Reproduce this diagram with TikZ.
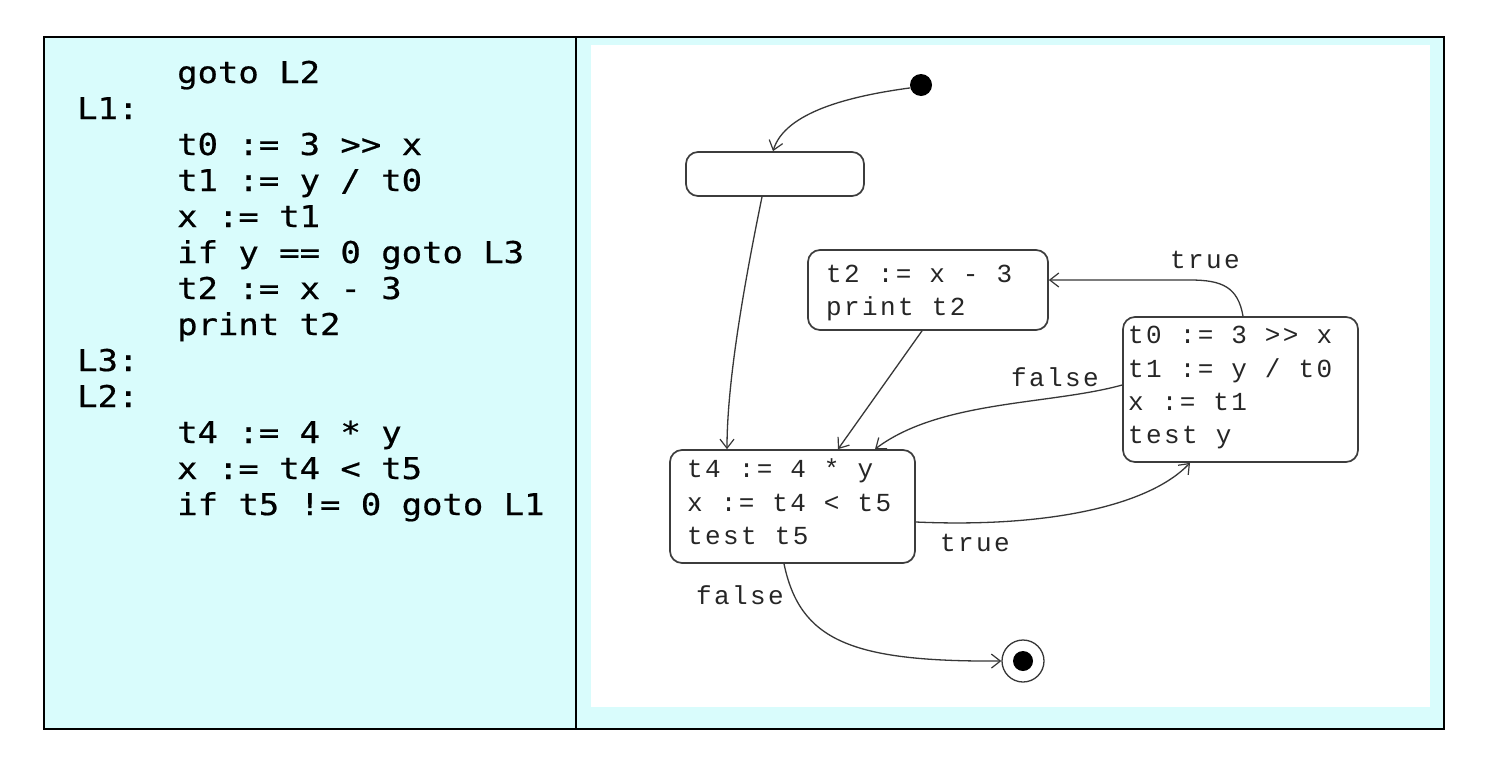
\documentclass[tikz,border=0pt]{standalone}
\usepackage{fontspec}
\usetikzlibrary{arrows.meta,calc}
\newfontfamily\codefont{DejaVu Sans Mono}[FakeStretch=1.13,FakeBold=0.6]
\newfontfamily\boxfont{Liberation Mono}[LetterSpace=9.2]
\definecolor{panelcyan}{RGB}{217,252,252}
\definecolor{edgegray}{RGB}{55,55,55}
\definecolor{boxgray}{RGB}{60,60,60}
\begin{document}
\begin{tikzpicture}[x=1pt,y=-1pt,
  stbox/.style n args={2}{draw=boxgray, line width=1.7pt, rounded corners=12pt,
    minimum width=#1, minimum height=#2, inner sep=0pt},
  conn/.style={draw=edgegray, line width=1.3pt,
    -{Straight Barb[length=9pt,width=14pt,line width=1.2pt]}},
  boxtxt/.style={font={\boxfont\fontsize{26}{33}\selectfont}, text=black!85, anchor=base west, inner sep=0pt},
  lbl/.style={font={\boxfont\fontsize{26}{33}\selectfont}, text=black!85, inner sep=0pt},
  code/.style={font={\codefont\fontsize{30}{36}\selectfont}, text=black, anchor=base west, inner sep=0pt}
]
\useasboundingbox (0,0) rectangle (1512,774);
\fill[white] (0,0) rectangle (1512,774);
% panels
\fill[panelcyan] (44,37) rectangle (1444,729);
\fill[white] (591,45) rectangle (1430,707);
\draw[line width=2.4pt] (44,37) rectangle (1444,729);
\draw[line width=1.6pt] (576,37) -- (576,729);

% left code
\node[code] (c1) at (177,83) {goto L2};
\node[code] (c2) at (77,119) {L1:};
\node[code] (c3) at (177,155) {t0 := 3 >{}> x};
\node[code] (c4) at (177,191) {t1 := y / t0};
\node[code] (c5) at (177,227) {x := t1};
\node[code] (c6) at (177,263) {if y == 0 goto L3};
\node[code] (c7) at (177,299) {t2 := x - 3};
\node[code] (c8) at (177,335) {print t2};
\node[code] (c9) at (77,371) {L3:};
\node[code] (c10) at (77,407) {L2:};
\node[code] (c11) at (177,443) {t4 := 4 * y};
\node[code] (c12) at (177,479) {x := t4 < t5};
\node[code] (c13) at (177,515) {if t5 != 0 goto L1};

% states
\node[circle, fill=black, minimum size=22pt, inner sep=0pt] (init) at (921,85) {};
\node[stbox={178pt}{44pt}] (empty) at (775,174) {};
\node[stbox={240pt}{80pt}] (b2) at (928,290) {};
\node[stbox={235pt}{145pt}] (b0) at (1240.5,389.5) {};
\node[stbox={245pt}{113pt}] (b4) at (792.5,506.5) {};
\node[circle, draw=edgegray, line width=1.3pt, minimum size=42pt, inner sep=0pt] (fin) at (1023,661) {};
\node[circle, fill=black, minimum size=20pt, inner sep=0pt] (finc) at (fin.center) {};

% box texts
\node[boxtxt] (b2a) at (826,282) {t2 := x - 3};
\node[boxtxt] (b2b) at (826,315) {print t2};
\node[boxtxt] (b0a) at (1128,343) {t0 := 3 >{}> x};
\node[boxtxt] (b0b) at (1128,377) {t1 := y / t0};
\node[boxtxt] (b0c) at (1128,410) {x := t1};
\node[boxtxt] (b0d) at (1128,443) {test y};
\node[boxtxt] (b4a) at (687,477) {t4 := 4 * y};
\node[boxtxt] (b4b) at (687,511) {x := t4 < t5};
\node[boxtxt] (b4c) at (687,544) {test t5};

% edge labels
\node[lbl] (l1) at (1205,260) {true};
\node[lbl] (l2) at (1055,377) {false};
\node[lbl] (l3) at (975,543) {true};
\node[lbl] (l4) at (740,595) {false};

% connectors
\draw[conn] (init.195) .. controls (850,96) and (785,112) .. ([xshift=-2pt]empty.north);
\draw[conn] ([xshift=-13pt]empty.south) .. controls (745,280) and (727,380) .. ([xshift=-65.5pt]b4.north);
\draw[conn] ([xshift=-6pt]b2.south) -- ([xshift=45.5pt]b4.north);
\draw[conn] ([xshift=2.5pt]b0.north) .. controls (1238,287) and (1222,280) .. (1190,280) -- ([yshift=10pt]b2.east);
\draw[conn] ([yshift=4.5pt]b0.west) .. controls (1050,405) and (940,400) .. ([xshift=82.5pt]b4.north);
\draw[conn] ([yshift=-15.5pt]b4.east) .. controls (1050,528) and (1150,505) .. ([xshift=-50.5pt]b0.south);
\draw[conn] ([xshift=-8.5pt]b4.south) .. controls (800,640) and (850,662) .. (fin.west);
\end{tikzpicture}
\end{document}
